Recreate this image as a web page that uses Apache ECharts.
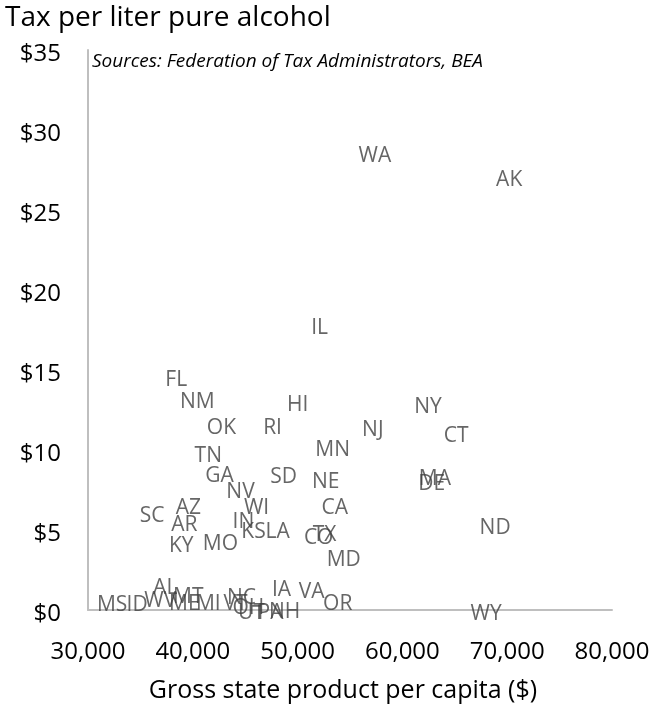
<!DOCTYPE html>
<html>
<head>
<meta charset="utf-8">
<script src="https://cdn.jsdelivr.net/npm/echarts@6/dist/echarts.min.js"></script>
<style>
  html, body { margin: 0; padding: 0; background: #fff; }
  #chart { width: 661px; height: 708px; }
</style>
</head>
<body>
<div id="chart"></div>
<script>
// state labels, gross state product per capita ($), tax per liter pure alcohol ($)
const states = ['WA','AK','IL','FL','NM','HI','NY','OK','RI','NJ','CT','MN','TN','GA','SD','NE','MA','DE','NV','WI','CA','SC','AZ','ND','AR','IN','KS','LA','TX','CO','KY','MO','MD',
                'MS','ID','AL','WV','MT','ME','MI','VT','NC','OH','UT','PA','NH','IA','VA','OR','WY'];
const gsp = [57370,70190,52100,38420,40430,50000,62440,42730,47610,57180,65120,53350,41480,42540,48660,52680,63100,62800,44550,46080,53540,36120,39570,68850,39190,44830,45790,48090,52580,52010,38900,42630,54400,
             32300,34690,37370,36890,39570,39190,41480,44070,44640,45310,45600,47420,48760,48470,51340,53830,67990];
const tax = [28.4,26.9,17.6,14.4,13.0,12.8,12.7,11.4,11.4,11.25,10.9,10.0,9.6,8.4,8.3,8.0,8.2,7.85,7.4,6.4,6.4,5.9,6.4,5.1,5.3,5.5,4.9,4.9,4.7,4.5,4.0,4.1,3.1,
             0.3,0.3,1.4,0.55,0.8,0.4,0.4,0.4,0.75,0.1,-0.2,-0.2,-0.15,1.25,1.1,0.4,-0.25];

const xTicks = [30000, 80000, 10000]; // min, max, interval
const yTicks = [0, 35, 5];

const font = '"Open Sans", "Noto Sans", sans-serif';
const chart = echarts.init(document.getElementById('chart'));

const points = states.map((s, i) => ({ name: s, value: [gsp[i], tax[i]] }));

chart.setOption({
    animation: false,
    title: [
        {
            text: 'Tax per liter pure alcohol',
            left: 0, top: -1,
            textStyle: { fontFamily: font, fontSize: 28, fontWeight: 'normal', color: '#000' }
        },
        {
            text: 'Sources: Federation of Tax Administrators, BEA',
            left: 87, top: 47,
            textStyle: { fontFamily: font, fontSize: 19, fontStyle: 'italic', fontWeight: 'normal', color: '#000' }
        }
    ],
    grid: { left: 88, top: 50, right: 49, bottom: 98, containLabel: false },
    xAxis: {
        type: 'value',
        min: xTicks[0], max: xTicks[1], interval: xTicks[2],
        name: 'Gross state product per capita ($)',
        nameLocation: 'middle',
        nameGap: 68,
        nameTextStyle: { fontFamily: font, fontSize: 25, color: '#000', padding: [0, 14, 0, 0] },
        axisLine: { show: true, lineStyle: { color: '#bfbfbf', width: 2 } },
        axisTick: { show: false },
        splitLine: { show: false },
        axisLabel: {
            margin: 30,
            fontFamily: font, fontSize: 24, color: '#000',
            formatter: v => String(v).replace(/\B(?=(\d{3})+(?!\d))/g, ',')
        }
    },
    yAxis: {
        type: 'value',
        min: yTicks[0], max: yTicks[1], interval: yTicks[2],
        axisLine: { show: true, lineStyle: { color: '#bfbfbf', width: 2 } },
        axisTick: { show: false },
        splitLine: { show: false },
        axisLabel: {
            margin: 27,
            verticalAlign: 'top',
            lineHeight: 9,
            fontFamily: font, fontSize: 24, color: '#000',
            formatter: v => '$' + v
        }
    },
    series: [{
        type: 'scatter',
        data: points,
        clip: false,
        symbolSize: 1,
        itemStyle: { color: 'rgba(0,0,0,0)' },
        label: {
            show: true,
            position: 'inside',
            formatter: p => p.name,
            fontFamily: font, fontSize: 21, color: '#404040'
        },
        labelLayout: { hideOverlap: false }
    }]
});
</script>
</body>
</html>
